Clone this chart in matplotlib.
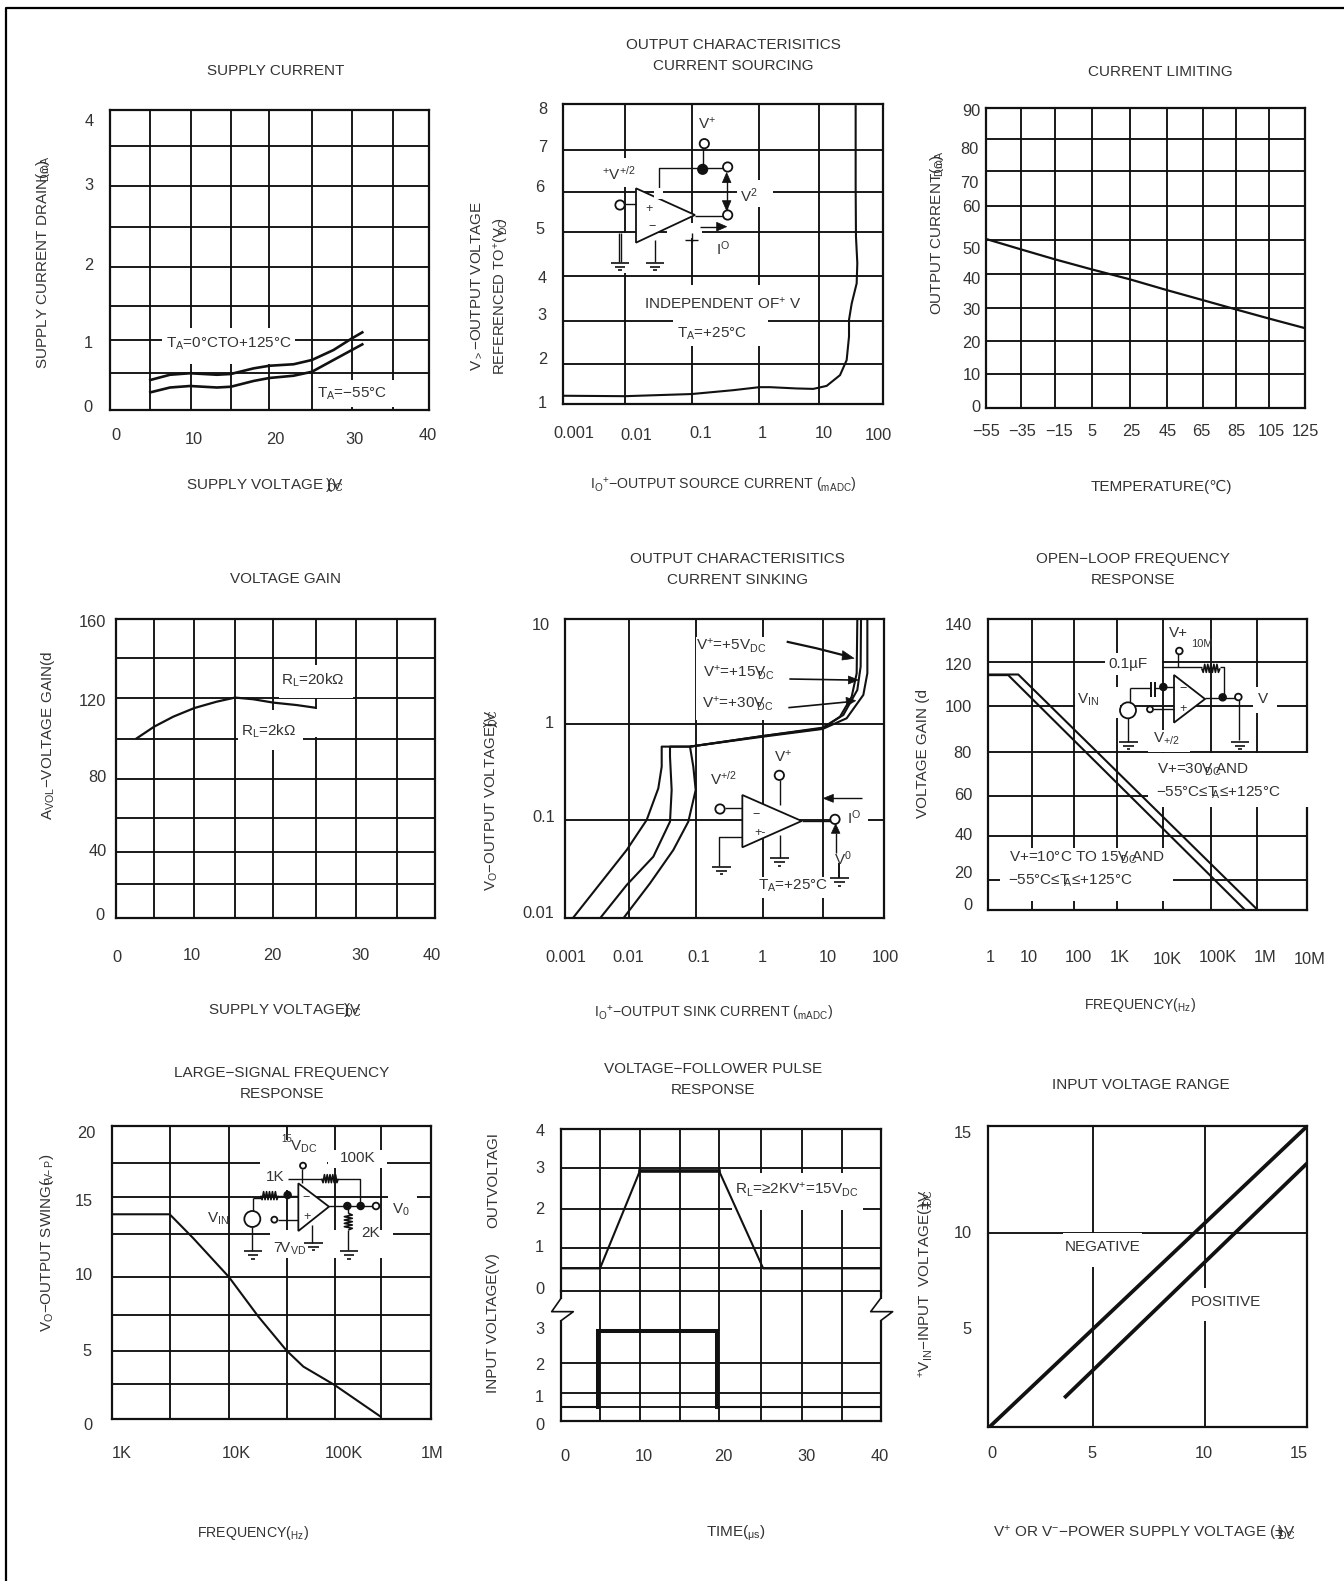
import matplotlib
matplotlib.use("Agg")
import numpy as np
import matplotlib.pyplot as plt
from matplotlib.patches import Rectangle, Circle, Polygon
from matplotlib.lines import Line2D
from matplotlib.transforms import Affine2D
from matplotlib.ticker import NullFormatter

W, H = 1344, 1581
plt.rcParams['font.family'] = ['Liberation Sans', 'DejaVu Sans']
plt.rcParams['mathtext.fontset'] = 'custom'
plt.rcParams['mathtext.rm'] = 'Liberation Sans'
plt.rcParams['mathtext.default'] = 'regular'
plt.rcParams['mathtext.fallback'] = 'stixsans'
INK = '#111111'
TXT = '#333333'
FS = 11
TICK = 11.8

# ------------------------------------------------------------------ data
sup_v = [5.05, 7.52, 10.03, 13.4, 15.13, 17.98, 19.97, 23.0, 25.3, 28.0, 30.3, 31.6]
sup_hot = [.40, .47, .49, .47, .48, .555, .59, .61, .667, .80, .955, 1.035]
sup_cold = [.235, .30, .32, .30, .31, .387, .427, .457, .51, .667, .80, .875]

src_log_i = [-3, -2.034, -.99, -.338, .069, .236, .653, .914, 1.123, 1.332, 1.436, 1.473, 1.473, 1.515, 1.593, 1.603, 1.582, 1.577, 1.577]
src_v = [1.20, 1.19, 1.24, 1.33, 1.40, 1.40, 1.37, 1.36, 1.43, 1.68, 2.03, 2.58, 2.97, 3.35, 3.82, 4.29, 4.91, 6.07, 7.95]

lim_t = [-55, -35.4, -16.1, 4.6, 26.3, 47.0, 67.3, 86.1, 104.5, 125]
lim_i = [50.7, 47.6, 44.6, 41.6, 38.6, 35.4, 32.4, 29.6, 26.9, 24.0]

gain_v = [2.63, 4.84, 7.22, 9.85, 12.65, 14.95, 17.24, 19.75, 22.67, 24.97]
gain_db = [96.2, 102.5, 107.8, 112.4, 115.8, 118, 117.1, 115.3, 114, 112.6]

sink_log_i_5 = [-2.88, -2.034, -1.721, -1.539, -1.486, -1.486, -1.043, .105, 1.034, 1.306, 1.489, 1.567, 1.577]
sink_log_v_5 = [-2, -1.315, -1.014, -.697, -.48, -.279, -.279, -.172, -.096, .021, .222, .456, 1]
sink_log_i_15 = [-2.452, -2.034, -1.617, -1.356, -1.33, -1.356, -1.356, -1.043, .105, 1.034, 1.358, 1.577, 1.629, 1.635]
sink_log_v_15 = [-2, -1.666, -1.382, -1.031, -.714, -.38, -.279, -.279, -.172, -.089, .038, .289, .523, 1]
sink_log_i_30 = [-2.087, -1.669, -1.304, -1.069, -.954, -.991, -1.043, .105, 1.034, 1.41, 1.671, 1.734, 1.734]
sink_log_v_30 = [-2, -1.649, -1.315, -1.031, -.714, -.48, -.279, -.179, -.102, .005, .239, .456, 1]

ol_log_f_a = [0, .45, 5.635]
ol_db_a = [113, 113, 0]
ol_log_f_b = [0, .67, 5.876]
ol_db_b = [113.3, 113.3, .8]

ls_log_f = [3, 3.545, 3.767, 4.102, 4.378, 4.644, 4.801, 5.095, 5.527]
ls_swing = [13.99, 13.99, 12.35, 9.7, 7.0, 4.67, 3.58, 2.32, .16]

pulse_t_out = [0, 4.88, 9.88, 19.77, 25.3, 40]
pulse_out = [.55, .55, 2.96, 2.96, .55, .55]
pulse_t_in = [0, 4.67, 4.67, 19.57, 19.57, 40]
pulse_in = [.46, .46, 2.95, 2.95, .46, .46]

rng_neg_x = [.1, 15]
rng_neg_y = [0, 15]
rng_pos_x = [3.66, 15]
rng_pos_y = [1.5, 13.15]

# ------------------------------------------------------------------ helpers
fig = plt.figure(figsize=(W / 100, H / 100), dpi=100, facecolor='white')
T = Affine2D().scale(1, -1).translate(0, H)


class Sk:
    """Drawing in the reference's pixel frame, offset (ox, oy), coordinates 3x."""

    def __init__(s, ax, ox, oy):
        s.ax, s.ox, s.oy = ax, ox, oy

    def p(s, x, y):
        return s.ox + x / 3, s.oy + y / 3

    def line(s, *pts, lw=1.0, z=5):
        xy = [s.p(*q) for q in pts]
        s.ax.plot([q[0] for q in xy], [q[1] for q in xy], transform=T, color=INK, lw=lw,
                  clip_on=False, zorder=z, solid_capstyle='butt')

    def mask(s, x0, y0, x1, y1, z=1):
        s.ax.add_patch(Rectangle(s.p(x0, y0), (x1 - x0) / 3, (y1 - y0) / 3, transform=T,
                                 fc='white', ec='none', zorder=z, clip_on=False))

    def circ(s, x, y, r=14, fill=False, lw=1.3):
        s.ax.add_patch(Circle(s.p(x, y), r / 3, transform=T, fc=INK if fill else 'white',
                              ec=INK, lw=lw, zorder=6, clip_on=False))

    def tri(s, *pts, lw=1.3):
        s.ax.add_patch(Polygon([s.p(*q) for q in pts], closed=True, transform=T, fc='white',
                               ec=INK, lw=lw, zorder=5, clip_on=False))

    def head(s, *pts):
        s.ax.add_patch(Polygon([s.p(*q) for q in pts], closed=True, transform=T, fc=INK,
                               ec=INK, lw=.5, zorder=6, clip_on=False))

    def gnd(s, x, y):
        s.line((x - 28, y), (x + 28, y), lw=1.2)
        s.line((x - 16, y + 12), (x + 16, y + 12), lw=1.2)
        s.line((x - 5, y + 23), (x + 5, y + 23), lw=1.2)

    def res_h(s, x0, x1, y):
        n = 6
        xs = np.linspace(x0, x1, n * 2 + 1)
        s.line(*[(a, y + (0 if i in (0, n * 2) else (12 if i % 2 else -12))) for i, a in enumerate(xs)], lw=1.2)

    def res_v(s, x, y0, y1):
        n = 5
        ys = np.linspace(y0, y1, n * 2 + 1)
        s.line(*[(x + (0 if i in (0, n * 2) else (12 if i % 2 else -12)), a) for i, a in enumerate(ys)], lw=1.2)

    def text(s, x, y, t, size=FS, **kw):
        s.ax.text(*s.p(x, y), t, transform=T, ha='center', va='center', fontsize=size, color=TXT,
                  clip_on=False, zorder=7, **kw)


def panel(ox, oy, frame, xscale, xlim, ylim, xgrid, ygrid, xt, xtl, xpos, yt, ytl, ypos,
          title=None, tpos=None, xlabel=None, xlpos=None, ylabel=None, ylpos=None,
          spines=('left', 'right', 'top', 'bottom'), yscale='linear', xls=FS, yls=FS):
    x0, y0, x1, y1 = frame
    l, t, r, b = ox + x0 / 3, oy + y0 / 3, ox + x1 / 3, oy + y1 / 3
    ax = fig.add_axes([l / W, 1 - b / H, (r - l) / W, (b - t) / H])
    ax.set_xscale(xscale)
    ax.set_yscale(yscale)
    ax.set_xlim(*xlim)
    ax.set_ylim(*ylim)
    ax.set_xticks(xgrid, minor=True)
    ax.set_yticks(ygrid, minor=True)
    ax.xaxis.set_minor_formatter(NullFormatter())
    ax.yaxis.set_minor_formatter(NullFormatter())
    ax.grid(which='minor', color=INK, lw=1.35)
    ax.set_axisbelow(True)
    ax.tick_params(which='both', length=0, labelsize=TICK, labelcolor=TXT)
    ax.set_xticks(xt, xtl)
    ax.set_yticks(yt, ytl)
    for s_ in ax.spines:
        ax.spines[s_].set_visible(s_ in spines)
        ax.spines[s_].set_linewidth(1.6)
        ax.spines[s_].set_color(INK)
    ax.set_xlim(*xlim)
    ax.set_ylim(*ylim)
    ax.set_facecolor('none')
    # tick labels sit where the reference has them, slightly off their grid lines
    for tick, loc, q in zip(ax.xaxis.get_major_ticks(), xt, xpos):
        px, py = ox + q[0] / 3, oy + q[1] / 3
        dx = px - ax.transData.transform((loc, ylim[0]))[0]
        dy = -(py - b)
        tick.label1.set(ha='center', va='center')
        tick.label1.set_y(0)
        tick.label1.set_transform(ax.get_xaxis_transform() + Affine2D().translate(dx, dy))
    for tick, loc, q in zip(ax.yaxis.get_major_ticks(), yt, ypos):
        px, py = ox + q[0] / 3, oy + q[1] / 3
        dy = (H - py) - ax.transData.transform((xlim[0], loc))[1]
        dx = px - l
        tick.label1.set(ha='center', va='center')
        tick.label1.set_x(0)
        tick.label1.set_transform(ax.get_yaxis_transform() + Affine2D().translate(dx, dy))
    if title:
        ax.set_title(title, x=(ox + tpos[0] / 3 - l) / (r - l), y=(b - (oy + tpos[1] / 3)) / (b - t),
                     fontsize=FS, color=TXT, va='center', ha='center', pad=0, linespacing=1.65)
    if xlabel:
        ax.set_xlabel(xlabel, fontsize=xls, color=TXT, va='center', ha='center')
        ax.xaxis.set_label_coords(ox + xlpos[0] / 3, oy + xlpos[1] / 3, transform=T)
    if ylabel:
        ax.set_ylabel(ylabel, fontsize=yls, color=TXT, va='center', ha='center')
        ax.yaxis.set_label_coords(ox + ylpos[0] / 3, oy + ylpos[1] / 3, transform=T)
    return ax, Sk(ax, ox, oy)


def curve(ax, x, y, lw=1.6, z=4):
    ax.plot(x, y, color=INK, lw=lw, zorder=z, solid_joinstyle='round')


def lg(a):
    return 10.0 ** np.asarray(a, dtype=float)


DC = r'$_{DC}$'
DCO = r'$\!\!\!{}_{DC}\!\!$'      # the reference prints this subscript on top of its V
DCM = r'$\!\!\!\!\!\!{}_{DC}\!\!\!\!\!\!\!$'
A = r'$_{A}$'
AO = r'$\!\!{}_{A}$'

# ------------------------------------------------------------------ 1 supply current
ax, s = panel(0, 0, (330, 330, 1288, 1230), 'linear', (0, 40), (0, 4),
              [5.05, 10.16, 15.13, 19.97, 25.29, 30.34, 35.4], [.50, .93, 1.39, 1.91, 2.44, 2.99, 3.52],
              [0, 10, 20, 30, 40], ['0', '10', '20', '30', '40'],
              [(347, 1305), (581, 1318), (827, 1318), (1063, 1318), (1283, 1305)],
              [0, 1, 2, 3, 4], ['0', '1', '2', '3', '4'],
              [(265, 1222), (265, 1030), (267, 797), (267, 555), (267, 366)],
              'SUPPLY CURRENT', (827, 213), 'SUPPLY VOLTAGE (V' + DCM + ')', (795, 1455),
              r'SUPPLY CURRENT DRAIN($_{mA}\!\!\!\!\!\!\!\!\!\!_{DC}$)', (130, 785))
s.mask(485, 985, 885, 1092)
s.mask(942, 1140, 1200, 1222)
curve(ax, sup_v, sup_hot, 1.9)
curve(ax, sup_v, sup_cold, 1.9)
s.text(685, 1030, 'T' + A + '=0°CTO+125°C')
s.text(1055, 1180, 'T' + A + '=−55°C')

# ------------------------------------------------------------------ 2 sourcing
ax, s = panel(450, 20, (340, 252, 1298, 1153), 'log', (1e-3, 100), (1, 8),
              lg([-2.034, -.99, .069, 1.003]), [1.95, 2.94, 3.99, 5.02, 5.94, 6.93],
              [1e-3, 1e-2, .1, 1, 10, 100], ['0.001', '0.01', '0.1', '1', '10', '100'],
              [(372, 1240), (560, 1247), (752, 1240), (937, 1240), (1120, 1240), (1285, 1247)],
              [1, 2, 3, 4, 5, 6, 7, 8], list('12345678'),
              [(277, 1150), (277, 1018), (277, 888), (277, 776), (270, 630), (270, 502), (277, 382), (277, 268)],
              'OUTPUT CHARACTERISITICS\nCURRENT SOURCING', (850, 107),
              r'I$_{O}$$^{+}$−OUTPUT SOURCE CURRENT ($_{mA}$' + DC + ')', (820, 1397),
              r'V$_{>}$−OUTPUT VOLTAGE', (80, 797), xls=10.2)
s.text(155, 830, r'REFERENCED TO$^{+}$(V' + DCO + ')', size=10.6, rotation=90)
s.mask(455, 415, 555, 500)
s.mask(860, 480, 970, 560)
s.mask(650, 610, 755, 655)
s.mask(590, 795, 1060, 900)
s.mask(670, 900, 955, 978)
s.mask(500, 640, 560, 760)
curve(ax, lg(src_log_i), src_v, 1.5)
s.tri((558, 505), (558, 668), (735, 585))
s.mask(612, 505, 640, 538, z=5.5)
s.line((524, 552), (558, 552))
s.circ(510, 555)
s.line((628, 522), (628, 445), (820, 445))
s.circ(833, 441)
s.circ(758, 448, 14, True)
s.line((760, 385), (760, 445))
s.circ(763, 371)
s.line((735, 587), (820, 587))
s.circ(833, 585)
s.line((830, 470), (830, 570))
s.head((830, 458), (817, 488), (843, 488))
s.head((830, 572), (817, 542), (843, 542))
s.line((750, 620), (800, 620))
s.head((830, 620), (800, 607), (800, 633))
s.line((507, 638), (507, 725))
s.line((513, 638), (513, 725))
s.gnd(510, 728)
s.line((615, 660), (615, 725))
s.gnd(615, 728)
s.line((725, 640), (725, 665))
s.line((705, 660), (745, 660))
s.text(770, 310, r'V$^{+}$')
s.text(505, 460, r'$^{+}$V$^{+/2}$')
s.text(895, 528, r'V$^{2}$')
s.text(820, 685, r'I$^{O}$')
s.text(597, 567, '+', size=9)
s.text(605, 622, '−', size=9)
s.text(820, 850, r'INDEPENDENT OF$^{+}$ V')
s.text(785, 942, 'T' + A + '=+25°C')

# ------------------------------------------------------------------ 3 current limiting
xt = [-55, -35, -15, 5, 25, 45, 65, 85, 105, 125]
ax, s = panel(900, 40, (258, 203, 1215, 1105), 'linear', (-55, 125), (0, 90),
              [-35.4, -16.1, 4.6, 26.3, 47.0, 67.3, 86.1, 104.5], [10.2, 20.3, 29.9, 40.1, 50.4, 60.7, 70.9, 80.5],
              xt, ['−55', '−35', '−15', '5', '25', '45', '65', '85', '105', '125'],
              [(z, 1175) for z in (258, 367, 477, 575, 693, 802, 905, 1010, 1115, 1215)],
              [0, 10, 20, 30, 40, 50, 60, 70, 80, 90], ['0', '10', '20', '30', '40', '50', '60', '70', '80', '90'],
              [(229, 1102), (214, 1005), (214, 910), (214, 812), (214, 718), (214, 628), (214, 503), (208, 430), (208, 327), (214, 213)],
              'CURRENT LIMITING', (780, 95), 'TEMPERATURE(℃)', (785, 1340),
              r'OUTPUT CURRENT($_{mA}\!\!\!\!\!\!\!\!\!\!_{DC}$)', (110, 579))
curve(ax, lim_t, lim_i, 1.6)

# ------------------------------------------------------------------ 4 voltage gain
ax, s = panel(20, 550, (287, 207, 1245, 1105), 'linear', (0, 40), (0, 160),
              [4.84, 9.85, 14.95, 19.75, 25.05, 30.1, 35.2], [18.4, 35.3, 53.5, 74.5, 96, 117.8, 139],
              [0, 10, 20, 30, 40], ['0', '10', '20', '30', '40'],
              [(292, 1222), (515, 1217), (757, 1217), (1022, 1217), (1235, 1217)],
              [0, 40, 80, 120, 160], ['0', '40', '80', '120', '160'],
              [(240, 1097), (232, 905), (232, 683), (218, 453), (218, 218)],
              'VOLTAGE GAIN', (798, 88), 'SUPPLY VOLTAGE(V' + DCM + ')', (795, 1380),
              r'A$_{VOL}$−VOLTAGE GAIN(d', (85, 557))
s.mask(778, 345, 1000, 445)
s.mask(885, 476, 1000, 562)
s.mask(655, 480, 850, 600)
curve(ax, gain_v, gain_db, 1.6)
s.text(878, 390, r'R$_{L}$=20kΩ')
s.text(745, 545, r'R$_{L}$=2kΩ')

# ------------------------------------------------------------------ 5 sinking
ax, s = panel(450, 540, (345, 237, 1303, 1135), 'log', (1e-3, 100), (.01, 10),
              lg([-2.003, -.949, .105, 1.034]), [.0969, .887],
              [1e-3, 1e-2, .1, 1, 10, 100], ['0.001', '0.01', '0.1', '1', '10', '100'],
              [(z, 1253) for z in (348, 535, 745, 937, 1132, 1305)],
              [.01, .1, 1, 10], ['0.01', '0.1', '1', '10'],
              [(265, 1120), (280, 833), (298, 550), (273, 257)],
              'OUTPUT CHARACTERISITICS\nCURRENT SINKING', (862, 89),
              r'I$_{O}$$^{+}$−OUTPUT SINK CURRENT ($_{mA}$' + DC + ')', (790, 1420),
              r'V$_{O}$−OUTPUT VOLTAGE(V' + DCM + ')', (122, 782), yscale='log', xls=10.2, yls=10.8)
s.mask(739, 290, 1010, 540)
s.mask(1170, 800, 1255, 880)
s.mask(930, 1010, 1135, 1075)
curve(ax, lg(sink_log_i_5), lg(sink_log_v_5), 1.5)
curve(ax, lg(sink_log_i_15), lg(sink_log_v_15), 1.5)
curve(ax, lg(sink_log_i_30), lg(sink_log_v_30), 1.5)
s.line((1010, 305), (1100, 325), (1190, 348), lw=1.6)
s.head((1212, 355), (1178, 332), (1176, 360))
s.line((1018, 417), (1200, 420), lw=1.2)
s.head((1225, 420), (1195, 408), (1195, 432))
s.line((1015, 503), (1190, 486), lw=1.2)
s.head((1217, 482), (1188, 472), (1190, 498))
s.text(845, 318, r'V$^{+}$=+5V' + DC)
s.text(865, 398, r'V$^{+}$=+15V' + DCO)
s.text(862, 492, r'V$^{+}$=+30V' + DCO)
s.tri((877, 765), (877, 922), (1055, 843))
s.circ(810, 807)
s.line((825, 805), (877, 805))
s.text(917, 825, '−', size=9)
s.text(930, 880, '+-', size=9)
s.line((877, 890), (807, 890), (807, 978))
s.gnd(815, 980)
s.text(820, 715, r'V$^{+/2}$')
s.text(1000, 650, r'V$^{+}$')
s.circ(988, 706)
s.line((990, 720), (990, 795))
s.line((990, 885), (990, 955))
s.gnd(988, 955)
s.line((1055, 842), (1143, 842))
s.circ(1155, 838)
s.text(1212, 833, r'I$^{O}$')
s.line((1235, 775), (1145, 775), lw=1.0)
s.head((1120, 775), (1150, 763), (1150, 787))
s.line((1157, 940), (1157, 880))
s.head((1157, 852), (1144, 880), (1170, 880))
s.text(1180, 955, r'V$^{0}$')
s.line((1168, 970), (1168, 1015), lw=1.4)
s.gnd(1168, 1015)
s.text(1030, 1037, 'T' + A + '=+25°C')

# ------------------------------------------------------------------ 6 open loop
ax, s = panel(900, 540, (263, 237, 1222, 1110), 'log', (1, 1e7), (0, 140),
              lg([.971, 1.898, 2.825, 3.832, 4.891, 5.891]), [14.4, 35.4, 54.8, 76.2, 98, 119.2],
              [1, 10, 100, 1e3, 1e4, 1e5, 1e6, 1e7], ['1', '10', '100', '1K', '10K', '100K', '1M', '10M'],
              [(272, 1253), (387, 1253), (535, 1253), (660, 1253), (802, 1257), (953, 1253), (1095, 1253), (1230, 1257)],
              [0, 20, 40, 60, 80, 100, 120, 140], ['0', '20', '40', '60', '80', '100', '120', '140'],
              [(205, 1097), (190, 1000), (190, 885), (190, 767), (188, 640), (175, 503), (175, 378), (175, 257)],
              'OPEN−LOOP FREQUENCY\nRESPONSE', (700, 89), r'FREQUENCY($_{Hz}$)', (720, 1395),
              'VOLTAGE GAIN (d', (70, 640), xls=10.2)
s.mask(615, 340, 785, 405)
s.mask(525, 440, 660, 535)
s.mask(745, 570, 870, 636)
s.mask(745, 640, 1226, 800, z=3)
s.mask(300, 925, 820, 1083)
s.mask(1060, 440, 1130, 520)
curve(ax, lg(ol_log_f_a), ol_db_a, 1.5)
curve(ax, lg(ol_log_f_b), ol_db_b, 1.5)
s.circ(838, 333, 10)
s.line((835, 343), (835, 382))
s.line((785, 382), (905, 382))
s.res_h(905, 960, 385)
s.line((960, 382), (972, 382), (972, 470))
s.tri((822, 405), (822, 548), (915, 477))
s.text(848, 447, '−', size=9)
s.text(850, 507, '+', size=9)
s.line((915, 473), (1005, 473))
s.circ(968, 472, 10, True)
s.circ(1015, 471, 10)
s.line((1018, 480), (1018, 600))
s.gnd(1020, 605)
s.circ(790, 441, 10, True)
s.line((790, 441), (822, 441))
s.line((765, 443), (790, 443))
s.line((752, 426), (752, 470), lw=1.4)
s.line((765, 426), (765, 470), lw=1.4)
s.line((690, 443), (752, 443))
s.line((690, 443), (690, 488))
s.circ(684, 511, 24)
s.line((684, 535), (684, 605))
s.gnd(686, 605)
s.circ(750, 508, 9)
s.line((760, 508), (822, 508))
s.text(835, 280, 'V+')
s.text(907, 313, '10M', size=8)
s.text(685, 372, '0.1µF')
s.text(565, 480, r'V$_{IN}$')
s.text(1088, 478, 'V')
s.text(800, 595, r'V$_{+/2}$')
s.text(910, 690, 'V+=30V' + DCO + 'AND')
s.text(955, 758, '−55°C≤T' + AO + '≤+125°C')
s.text(560, 952, 'V+=10°C TO 15V' + DCO + 'AND')
s.text(512, 1022, '−55°C≤T' + AO + '≤+125°C')

# ------------------------------------------------------------------ 7 large signal
ax, s = panel(20, 1050, (275, 229, 1233, 1107), 'log', (1e3, 1e6), (0, 20),
              lg([3.545, 4.102, 4.644, 5.095, 5.527]), [2.37, 4.67, 7.08, 9.7, 12.62, 15.19, 17.47],
              [1e3, 1e4, 1e5, 1e6], ['1K', '10K', '100K', '1M'],
              [(305, 1210), (648, 1210), (972, 1210), (1235, 1210)],
              [0, 5, 10, 15, 20], ['0', '5', '10', '15', '20'],
              [(205, 1128), (200, 903), (192, 675), (192, 455), (198, 250)],
              'LARGE−SIGNAL FREQUENCY\nRESPONSE', (785, 101), r'FREQUENCY($_{Hz}$)', (700, 1450),
              r'V$_{O}$−OUTPUT SWING($_{V}\!\!\!\!\!_{P-P}$)', (80, 580), xls=10.2)
s.mask(720, 270, 920, 420)
s.mask(925, 300, 1100, 355)
s.mask(725, 360, 800, 405)
s.mask(1105, 400, 1190, 520)
s.mask(750, 540, 1120, 625)
curve(ax, lg(ls_log_f), ls_swing, 1.5)
s.circ(849, 347, 9)
s.line((847, 356), (847, 400))
s.line((805, 386), (905, 386))
s.res_h(905, 955, 386)
s.line((955, 386), (1020, 386), (1020, 468))
s.tri((835, 400), (835, 543), (927, 470))
s.text(858, 443, '−', size=9)
s.text(860, 500, '+', size=9)
s.line((927, 468), (1058, 468))
s.circ(982, 468, 10, True)
s.circ(1022, 468, 10, True)
s.circ(1068, 468, 10)
s.line((985, 468), (985, 490))
s.res_v(985, 490, 540)
s.line((985, 540), (985, 600))
s.gnd(987, 603)
s.line((700, 443), (722, 443), (722, 437))
s.res_h(722, 775, 437)
s.line((775, 437), (835, 437))
s.circ(803, 435, 10, True)
s.line((700, 443), (700, 483))
s.circ(697, 507, 24)
s.line((697, 531), (697, 603))
s.gnd(699, 603)
s.circ(763, 509, 9)
s.line((773, 509), (835, 509))
s.line((875, 525), (875, 578))
s.gnd(880, 578)
s.text(800, 268, '15', size=7)
s.text(850, 290, r'V' + DC)
s.text(1012, 325, '100K')
s.text(765, 380, '1K')
s.text(595, 505, r'V$_{IN}$')
s.text(1143, 478, r'V$_{0}$')
s.text(1052, 550, '2K')
s.text(810, 595, r'7V$_{VD}$')

# ------------------------------------------------------------------ 8 pulse (broken axis)
t_grid = [4.88, 9.88, 14.93, 19.77, 25.02, 30.1, 35.16]
up, s = panel(460, 1050, (303, 236, 1262, 722), 'linear', (0, 40), (0, 4),
              t_grid, [.55, 1.045, 2.016, 3.02],
              [], [],
              [],
              [0, 1, 2, 3, 4], ['0', '1', '2', '3', '4'],
              [(240, 720), (238, 592), (240, 478), (240, 355), (240, 245)],
              'VOLTAGE−FOLLOWER PULSE\nRESPONSE', (760, 89), None, None,
              'OUTVOLTAGI', (100, 391), spines=('left', 'right', 'top'))
up.axhline(0, color=INK, lw=1.35, clip_on=False, zorder=.5)
s.mask(815, 368, 1210, 480)
curve(up, pulse_t_out, pulse_out, 1.5)
up.plot(pulse_t_out[2:4], pulse_out[2:4], color=INK, lw=2.6, zorder=4)
s.text(1010, 420, r'R$_{L}$=≥2KV$^{+}$=15V' + DC)
lo, s = panel(460, 1050, (303, 722, 1262, 1112), 'linear', (0, 40), (0, 4.27),
              t_grid, [.46, .92, 1.905, 3],
              [0, 10, 20, 30, 40], ['0', '10', '20', '30', '40'],
              [(315, 1220), (550, 1220), (790, 1220), (1038, 1220), (1258, 1220)],
              [0, 1, 2, 3], ['0', '1', '2', '3'],
              [(240, 1125), (238, 1042), (240, 945), (240, 838)],
              None, None, r'TIME($_{\mu s}$)', (828, 1450),
              'INPUT VOLTAGE(V)', (100, 820), spines=('left', 'right', 'bottom'))
curve(lo, pulse_t_in, pulse_in, 1.5)
lo.plot(pulse_t_in[1:5], pulse_in[1:5], color=INK, lw=2.9, zorder=4, solid_joinstyle='miter')
s.mask(290, 748, 316, 810, z=3)
s.mask(1249, 748, 1275, 810, z=3)
s.line((303, 745), (275, 785), (340, 785), (303, 812), lw=1.2)
s.line((1262, 745), (1232, 785), (1298, 785), (1262, 812), lw=1.2)

# ------------------------------------------------------------------ 9 input range
ax, s = panel(900, 1050, (263, 229, 1221, 1130), 'linear', (0, 15), (0, 15),
              [4.96, 10.2], [5.0, 9.69],
              [0, 5, 10, 15], ['0', '5', '10', '15'],
              [(275, 1210), (575, 1210), (912, 1210), (1195, 1210)],
              [5, 10, 15], ['5', '10', '15'],
              [(200, 840), (187, 550), (187, 250)],
              'INPUT VOLTAGE RANGE', (722, 105),
              r'V$^{+}$ OR V$^{-}$−POWER SUPPLY VOLTAGE (±V' + DCM + ')', (732, 1450),
              r'$^{+}$V$_{IN}$−INPUT  VOLTAGE(±V' + DCM + ')', (80, 700))
s.mask(490, 550, 725, 650)
s.mask(870, 715, 1085, 812)
curve(ax, rng_neg_x, rng_neg_y, 2.7)
curve(ax, rng_pos_x, rng_pos_y, 2.7)
s.text(607, 592, 'NEGATIVE')
s.text(977, 755, 'POSITIVE')

# ------------------------------------------------------------------ page rule, top and left only
fig.add_artist(Line2D([6, 6, W], [H, 8, 8], transform=T, color='#000000', lw=1.6))

fig.savefig('out.png', dpi=100, facecolor='white')
